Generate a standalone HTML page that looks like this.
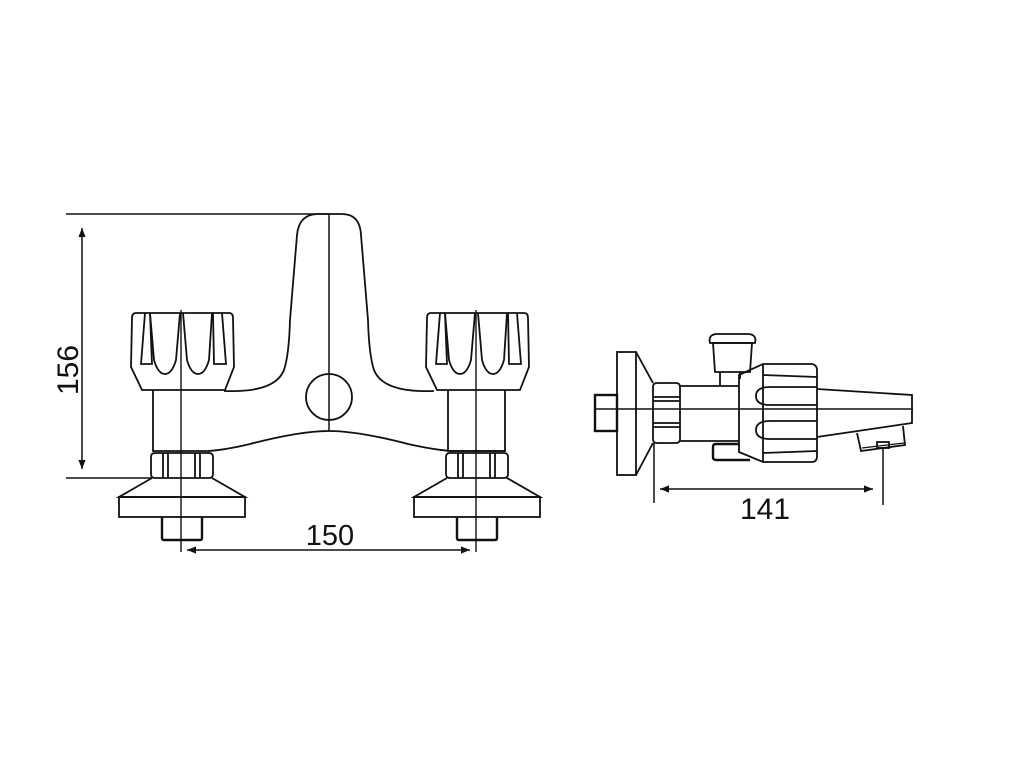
<!DOCTYPE html>
<html><head><meta charset="utf-8"><style>
html,body{margin:0;padding:0;background:#fff}
svg{display:block}
text{font-family:"Liberation Sans",Arial,sans-serif;fill:#111}
</style></head><body>
<svg width="1024" height="768" viewBox="0 0 1024 768" xmlns="http://www.w3.org/2000/svg">
<defs>
<marker id="ar" viewBox="0 0 10 10" refX="10" refY="5" markerWidth="9" markerHeight="9" orient="auto-start-reverse" markerUnits="userSpaceOnUse"><path d="M0,1 L10,5 L0,9 Z" fill="#111"/></marker>
<g id="tap">
  <path d="M136,313 L229,313 Q233,313 233,318 L234,367 L225,390 L142,390 L131,367 L132,318 Q132,313 136,313 Z"/>
  <path d="M145,313 L141,364 L152,364 L150,313"/>
  <path d="M222,313 L226,364 L214,364 L213,313"/>
  <path d="M150,313 L154,360 Q158,374 165,374 Q172,374 176,360 L180,313"/>
  <path d="M183,313 L187,360 Q191,374 198,374 Q205,374 209,360 L212,313"/>
  <path d="M153,390 L153,451 L210,451"/>
  <path d="M155,453 L209,453 Q213,453 213,457 L213,474 Q213,478 209,478 L155,478 Q151,478 151,474 L151,457 Q151,453 155,453 Z"/>
  <path d="M163,453 L163,478 M168,453 L168,478 M195,453 L195,478 M200,453 L200,478"/>
  <path d="M152,478 L119,497 L245,497 L212,478"/>
  <rect x="119" y="497" width="126" height="20"/>
  <path d="M162,517 L162,538 Q162,540 164,540 L200,540 Q202,540 202,538 L202,517" stroke-width="2.4"/>
</g>
</defs>
<g fill="none" stroke="#111" stroke-width="1.8">
  <use href="#tap"/>
  <use href="#tap" transform="translate(295,0)"/>
  <path d="M505,390 L505,451 L448,451" />
  <path d="M224,391 Q275,393 284,370 Q289,355 290,320 L297,235 Q299,214 318,214 L342,214 Q360,214 361,235 L368,320 Q369,355 374,370 Q383,393 434,391"/>
  <path d="M208,451 Q225,450 250,444 Q300,431 329,431 Q358,431 408,444 Q435,450 452,451"/>
  <circle cx="329" cy="397" r="23"/>
  <path d="M329,214 L329,431" stroke-width="1.5"/>
  <path d="M181,310 L181,552 M476,310 L476,552" stroke-width="1.4"/>
  <path d="M66,214 L330,214 M66,478 L151,478" stroke-width="1.5"/>
  <path d="M82,228 L82,469" stroke-width="1.5" marker-start="url(#ar)" marker-end="url(#ar)"/>
  <path d="M187,550 L470,550" stroke-width="1.5" marker-start="url(#ar)" marker-end="url(#ar)"/>

  <path d="M596,409 L913,409" stroke-width="1.4"/>
  <rect x="595" y="395" width="22" height="36" stroke-width="2.4"/>
  <rect x="617" y="352" width="19" height="123"/>
  <path d="M636,352 L653,383 M636,475 L653,443"/>
  <path d="M657,383 L676,383 Q680,383 680,387 L680,439 Q680,443 676,443 L657,443 Q653,443 653,439 L653,387 Q653,383 657,383 Z"/>
  <path d="M653,397 L680,397 M653,401 L680,401 M653,423 L680,423 M653,427 L680,427"/>
  <path d="M680,386 L739,386 M680,441 L739,441"/>
  <path d="M713,343 L752,343 L750,372 L715,372 Z"/>
  <path d="M710,343 Q708,335 716,334 L749,334 Q757,335 755,343 Z"/>
  <path d="M720,372 L720,386 M740,372 L740,379"/>
  <path d="M739,444 L716,444 Q713,444 713,447 L713,457 Q713,460 716,460 L750,460" stroke-width="2.4"/>
  <path d="M739,375 L763,364 L812,364 Q817,365 817,370 L817,456 Q817,462 812,462 L763,462 L739,452 Z"/>
  <path d="M763,364 L763,462 M763,375 L817,377 M763,453 L817,451"/>
  <path d="M817,387 L770,387 Q756,387 756,396 Q756,405 770,405 L817,405"/>
  <path d="M817,421 L770,421 Q756,421 756,430 Q756,439 770,439 L817,439"/>
  <path d="M817,389 L912,395 L912,423 L817,437"/>
  <path d="M857,433 L861,451 L905,445 L903,426"/>
  <path d="M862,448 L904,443" stroke-width="1.2"/>
  <rect x="877" y="442" width="12" height="6"/>
  <path d="M654,443 L654,503 M883,448 L883,505" stroke-width="1.5"/>
  <path d="M660,489 L873,489" stroke-width="1.5" marker-start="url(#ar)" marker-end="url(#ar)"/>
</g>
<text x="330" y="545" font-size="29" text-anchor="middle">150</text>
<text x="765" y="519" font-size="30" text-anchor="middle">141</text>
<text transform="translate(78,370) rotate(-90)" font-size="30" text-anchor="middle">156</text>
</svg>
</body></html>
